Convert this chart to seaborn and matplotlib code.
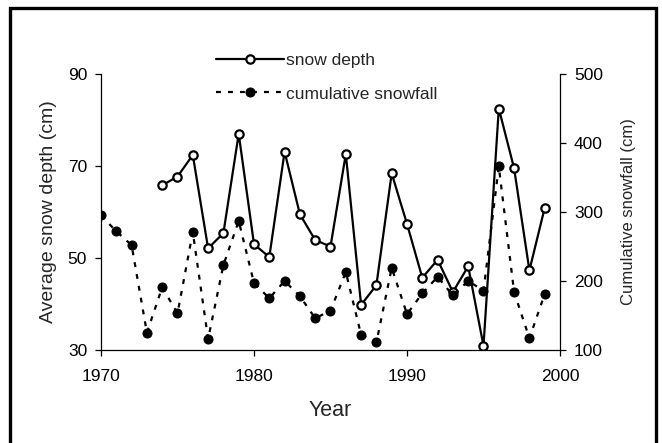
import numpy as np
import matplotlib
matplotlib.use("Agg")
import matplotlib.pyplot as plt
import seaborn as sns
from matplotlib.patches import Rectangle

# Data
depth_years = list(range(1974, 2000))
snow_depth = [65.8, 67.7, 72.4, 52.1, 55.4, 77.0, 53.0, 50.2, 73.1, 59.5,
              53.9, 52.5, 72.6, 39.8, 44.1, 68.4, 57.4, 45.7, 49.6, 42.6,
              48.2, 30.9, 82.5, 69.5, 47.3, 60.9]

fall_years = list(range(1970, 2000))
cum_snowfall = [295, 272, 252, 125, 191, 153, 271, 116, 223, 287,
                197, 175, 200, 178, 146, 157, 213, 122, 111, 219,
                152, 182, 206, 179, 200, 186, 366, 184, 117, 181]

x_ticks = [1970, 1980, 1990, 2000]
left_ticks = [30, 50, 70, 90]
right_ticks = [100, 200, 300, 400, 500]

sns.set_style("ticks")
plt.rcParams['font.family'] = ['Liberation Sans', 'DejaVu Sans']

fig = plt.figure(figsize=(6.62, 4.43), dpi=100)
ax = fig.add_axes([101 / 662, 1 - 350 / 443, 459 / 662, 276 / 443])
ax2 = ax.twinx()

sns.lineplot(x=depth_years, y=snow_depth, ax=ax, color="black", linewidth=1.6,
             marker="o", markersize=6, markerfacecolor="white",
             markeredgecolor="black", markeredgewidth=1.6, label="snow depth",
             legend=False, zorder=3)
sns.lineplot(x=fall_years, y=cum_snowfall, ax=ax2, color="black", linewidth=1.6,
             linestyle=(0, (2.2, 3.2)), marker="o", markersize=6.5,
             markerfacecolor="black", markeredgecolor="black",
             label="cumulative snowfall", legend=False, zorder=2)

ax.set_xlim(1970, 2000)
ax.set_ylim(30, 90)
ax2.set_ylim(100, 500)
ax.set_xticks(x_ticks)
ax.set_yticks(left_ticks)
ax2.set_yticks(right_ticks)

for a in (ax, ax2):
    a.spines["top"].set_visible(False)
    for s in a.spines.values():
        s.set_color("black")
        s.set_linewidth(0.9)
    a.tick_params(direction="out", length=4, width=0.9, colors="black",
                  labelsize=12.5, pad=6)
ax.tick_params(axis="x", pad=10)
ax.spines["right"].set_visible(False)
ax2.spines["left"].set_visible(False)
ax2.spines["bottom"].set_visible(False)

ax.set_xlabel("Year", fontsize=15.5, labelpad=11)
ax.set_ylabel("Average snow depth (cm)", fontsize=14, labelpad=8)
ax2.set_ylabel("Cumulative snowfall (cm)", fontsize=12, labelpad=13)

handles = [ax.get_lines()[0], ax2.get_lines()[0]]
labels = ["snow depth", "cumulative snowfall"]
fig.legend(handles, labels, loc="upper left",
           bbox_to_anchor=(216 / 662, 1 - 53 / 443), frameon=False,
           fontsize=12.5, handlelength=3.9, handletextpad=0.15,
           labelspacing=1.05, borderpad=0, borderaxespad=0)

fig.patches.append(Rectangle((10 / 662, -0.05), 646 / 662, 1.05 - 8 / 443,
                             transform=fig.transFigure, fill=False,
                             edgecolor="black", linewidth=2.4))

fig.savefig("out.png", dpi=100)
